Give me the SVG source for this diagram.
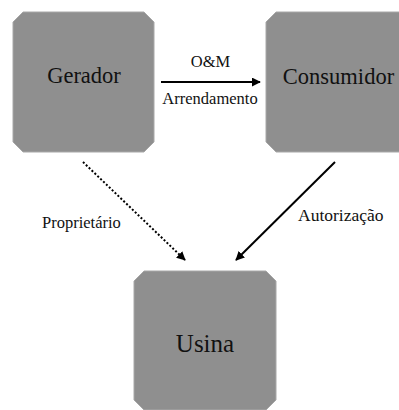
<svg xmlns="http://www.w3.org/2000/svg" width="399" height="410" viewBox="0 0 399 410">
<style>
.box{fill:#8f8f8f;stroke:#a8a8a8;stroke-width:1}
text{font-family:'Liberation Serif','Times New Roman','DejaVu Serif',serif;fill:#111}
.big{font-size:22.5px;text-anchor:middle}
.lbl{font-size:16.5px}
.c{fill:none;stroke:#000;stroke-width:2}
</style>
<defs>
<marker id="ah" viewBox="0 0 10 10" refX="9" refY="5" markerWidth="4.5" markerHeight="4.5" orient="auto" markerUnits="strokeWidth">
<path d="M0,0 L10,5 L0,10 z" fill="#000"/>
</marker>
</defs>
<rect width="399" height="410" fill="#fff"/>
<g id="gerador">
<path class="box" d="M23,12 H144 L154,22 V142 L144,152 H23 L13,142 V22 Z"/>
<text class="big" x="84" y="83" font-family="Liberation Serif, serif">Gerador</text>
</g>
<g id="consumidor">
<path class="box" d="M276,12 H400 V152 H276 L266,142 V22 Z"/>
<text class="big" x="338.5" y="84" font-family="Liberation Serif, serif">Consumidor</text>
</g>
<g id="usina">
<path class="box" d="M144,271 H266 L276,281 V400 L266,410 H144 L134,400 V281 Z"/>
<text class="big" x="205" y="352" font-family="Liberation Serif, serif" style="font-size:25px">Usina</text>
</g>
<g id="connectors">
<line class="c" x1="161" y1="82" x2="260" y2="82" marker-end="url(#ah)"/>
<line class="c" x1="83" y1="162" x2="185" y2="260" stroke-dasharray="2,2" marker-end="url(#ah)"/>
<line class="c" x1="335" y1="162" x2="236" y2="260" marker-end="url(#ah)"/>
<text class="lbl" x="210.5" y="67" text-anchor="middle" font-family="Liberation Serif, serif">O&amp;M</text>
<text class="lbl" x="210" y="104" text-anchor="middle" font-family="Liberation Serif, serif">Arrendamento</text>
<text class="lbl" x="42" y="228" font-family="Liberation Serif, serif">Proprietário</text>
<text class="lbl" x="298" y="221" font-family="Liberation Serif, serif" style="font-size:17.5px">Autorização</text>
</g>
</svg>
